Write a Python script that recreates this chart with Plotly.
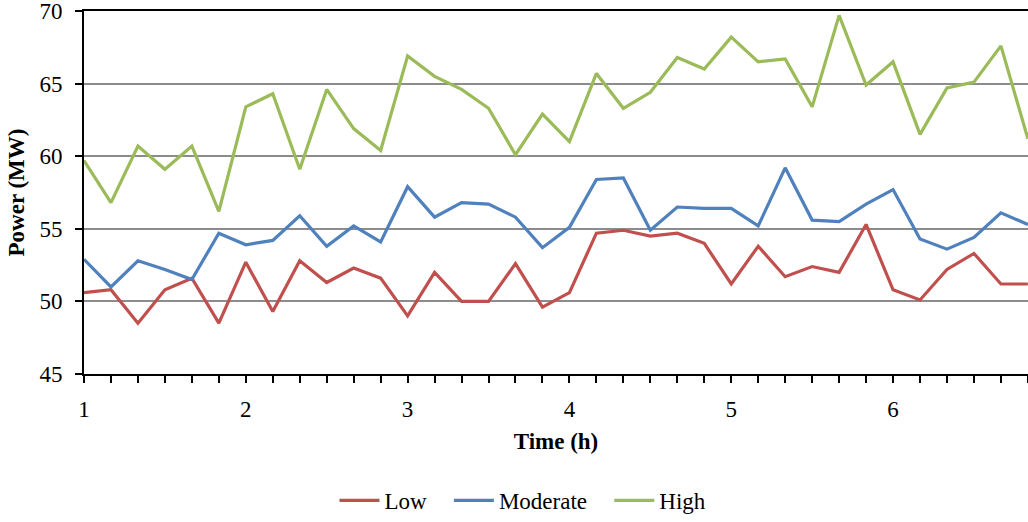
import plotly.graph_objects as go

# time of each sample, in minutes
time_min = [60, 70, 80, 90, 100, 110, 120, 130, 140, 150, 160, 170,
            180, 190, 200, 210, 220, 230, 240, 250, 260, 270, 280, 290,
            300, 310, 320, 330, 340, 350, 360, 370, 380, 390, 400, 410]

low = [50.6, 50.8, 48.5, 50.8, 51.6, 48.5, 52.7, 49.3, 52.8, 51.3, 52.3, 51.6,
       49.0, 52.0, 50.0, 50.0, 52.6, 49.6, 50.6, 54.7, 54.9, 54.5, 54.7, 54.0,
       51.2, 53.8, 51.7, 52.4, 52.0, 55.3, 50.8, 50.1, 52.2, 53.3, 51.2, 51.2]

moderate = [52.9, 51.0, 52.8, 52.2, 51.5, 54.7, 53.9, 54.2, 55.9, 53.8, 55.2, 54.1,
            57.9, 55.8, 56.8, 56.7, 55.8, 53.7, 55.1, 58.4, 58.5, 54.9, 56.5, 56.4,
            56.4, 55.2, 59.2, 55.6, 55.5, 56.7, 57.7, 54.3, 53.6, 54.4, 56.1, 55.3]

high = [59.7, 56.8, 60.7, 59.1, 60.7, 56.2, 63.4, 64.3, 59.1, 64.6, 61.9, 60.4,
        66.9, 65.5, 64.6, 63.3, 60.1, 62.9, 61.0, 65.7, 63.3, 64.4, 66.8, 66.0,
        68.2, 66.5, 66.7, 63.4, 69.7, 64.9, 66.5, 61.5, 64.7, 65.1, 67.6, 61.2]

series_names = ["Low", "Moderate", "High"]
series_colors = ["#C0504D", "#4F81BD", "#9BBB59"]

hours = [t / 60 for t in time_min]

FONT = "Liberation Serif"
FS = 23
PAD = "\u00a0\u00a0\u00a0"

fig = go.Figure()
for k, (name, vals, col) in enumerate(zip(series_names, [low, moderate, high], series_colors)):
    label = name + (PAD if k < len(series_names) - 1 else "")
    fig.add_trace(go.Scatter(x=hours, y=vals, mode="lines", name=label,
                             line=dict(color=col, width=3.2)))

fig.update_layout(
    width=1028, height=522,
    margin=dict(l=84, r=0, t=11, b=144),
    paper_bgcolor="white", plot_bgcolor="white",
    font=dict(family=FONT, size=FS, color="black"),
    showlegend=True,
    legend=dict(orientation="h", x=0.465, xanchor="center", y=-0.29, yanchor="top",
                font=dict(family=FONT, size=FS), itemwidth=40, tracegroupgap=0),
    xaxis=dict(
        range=[1, 6.834], tick0=1, dtick=1,
        showgrid=False, zeroline=False,
        showline=True, linecolor="black", linewidth=2, mirror=True,
        ticks="outside", ticklen=7, tickwidth=1.5, tickcolor="black",
        minor=dict(dtick=1/6, tick0=1, ticks="outside", ticklen=7, tickwidth=1.5, tickcolor="black"),
        tickfont=dict(family=FONT, size=FS),
        ticklabelstandoff=6,
        ticklabeloverflow="allow",
        title=dict(text="<b>Time (h)</b>", font=dict(family=FONT, size=FS), standoff=12),
    ),
    yaxis=dict(
        range=[45, 70], dtick=5,
        showgrid=True, gridcolor="#8C8C8C", gridwidth=1.5,
        zeroline=False,
        showline=True, linecolor="black", linewidth=2,
        ticks="outside", ticklen=7, tickwidth=1.5, tickcolor="black",
        tickfont=dict(family=FONT, size=FS),
        ticklabelstandoff=8,
        ticklabeloverflow="allow",
        title=dict(text="<b>Power (MW)</b>", font=dict(family=FONT, size=FS), standoff=8),
    ),
)

fig.write_html("out.html")
